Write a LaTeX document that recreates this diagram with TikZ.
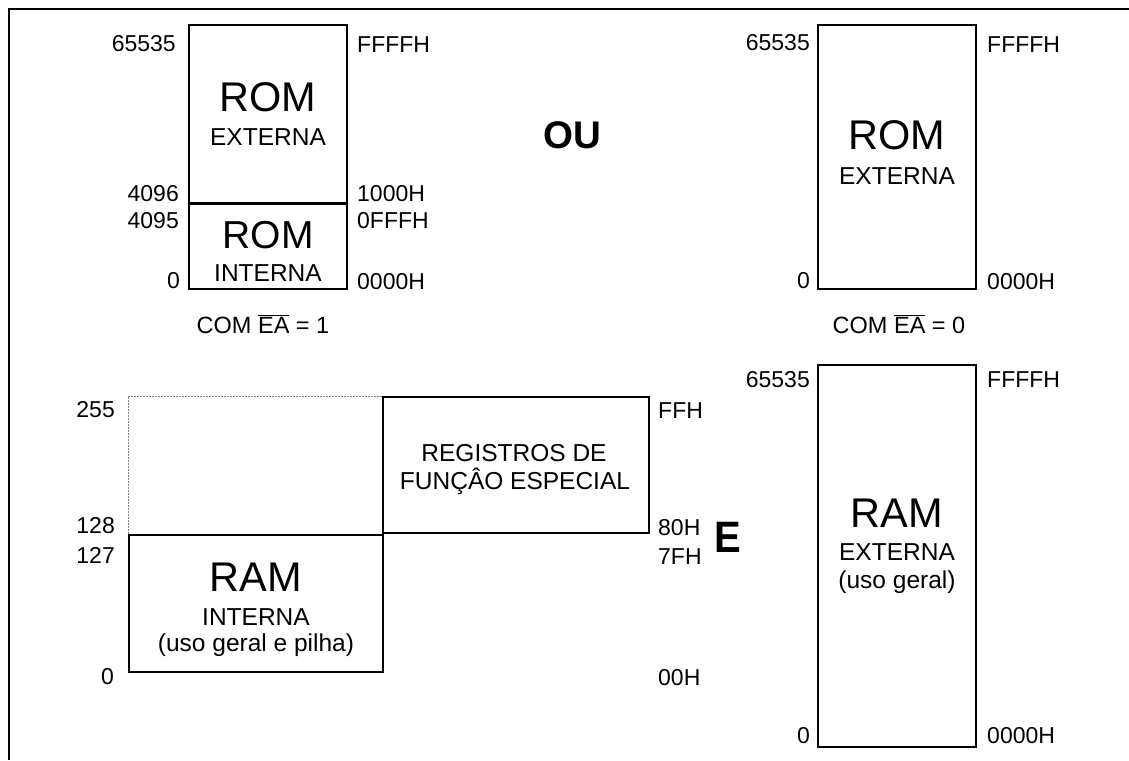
\documentclass[tikz,border=0pt]{standalone}
\usepackage{fontspec}
\setmainfont{Liberation Sans}
\newcommand{\myfs}[1]{\fontsize{#1}{#1}\selectfont}
\begin{document}
\begin{tikzpicture}[x=1pt,y=-1pt,
  membox/.style={draw, line width=2pt, rectangle, inner sep=0pt},
  lbl/.style={font=\myfs{23}, inner sep=0pt},
  bigt/.style={font=\myfs{41.5}, inner sep=0pt},
  midt/.style={font=\myfs{24.5}, inner sep=0pt},
  boldt/.style={font=\bfseries\myfs{38.5}, inner sep=0pt},
  frameline/.style={line width=2pt},
  dotline/.style={gray, line width=1pt, dash pattern=on 2pt off 1pt},
  divline/.style={line width=3pt}]
\useasboundingbox (0,0) rectangle (1129,760);
\fill[white] (0,0) rectangle (1129,760);

% frame
\coordinate (fright) at (1129,9);
\coordinate (fcorner) at (9,9);
\coordinate (fbottom) at (9,760);
\draw[frameline] (fright) -- (fcorner) -- (fbottom);

% ---- top-left: EA = 1
\node[membox, minimum width=158pt, minimum height=179pt] (romext) at (268,114.5) {};
\node[membox, minimum width=158pt, minimum height=85pt] (romint) at (268,246.5) {};
\draw[divline] (romint.north west) -- (romint.north east);
\node[bigt] (romextA) at (268,97) {ROM};
\node[midt] (romextB) at (268,137.5) {EXTERNA};
\node[font=\myfs{39}, inner sep=0pt] (romintA) at (268,235) {ROM};
\node[midt] (romintB) at (268,273) {INTERNA};
\node[lbl, anchor=east] (l65535a) at (176,44) {65535};
\node[lbl, anchor=east] (l4096) at (179,194) {4096};
\node[lbl, anchor=east] (l4095) at (179,221) {4095};
\node[lbl, anchor=east] (l0a) at (180,281) {0};
\node[lbl, anchor=west] (hFFFFa) at (357,45) {FFFFH};
\node[lbl, anchor=west] (h1000) at (357,194) {1000H};
\node[lbl, anchor=west] (h0FFF) at (357,221) {0FFFH};
\node[lbl, anchor=west] (h0000a) at (357,282) {0000H};
\node[midt, font=\myfs{23.5}, anchor=base] (ea1) at (263,333) {COM $\overline{\hbox{\myfs{23.5}EA}}$ = 1};

% OU
\node[boldt] (ou) at (572,135) {OU};

% ---- top-right: EA = 0
\node[membox, minimum width=158pt, minimum height=264pt] (romext2) at (897,157) {};
\node[bigt] (romext2A) at (897,135) {ROM};
\node[midt] (romext2B) at (897,176) {EXTERNA};
\node[lbl, anchor=east] (l65535b) at (810,43) {65535};
\node[lbl, anchor=east] (l0b) at (810,281) {0};
\node[lbl, anchor=west] (hFFFFb) at (987,45) {FFFFH};
\node[lbl, anchor=west] (h0000b) at (987,282) {0000H};
\node[midt, font=\myfs{23.5}, anchor=base] (ea0) at (899,333) {COM $\overline{\hbox{\myfs{23.5}EA}}$ = 0};

% ---- bottom-right: external RAM
\node[membox, minimum width=158pt, minimum height=382pt] (ramext) at (897,556) {};
\node[bigt] (ramextA) at (897,513) {RAM};
\node[midt] (ramextB) at (897,552) {EXTERNA};
\node[midt] (ramextC) at (897,582) {(uso geral)};
\node[lbl, anchor=east] (l65535c) at (810,380) {65535};
\node[lbl, anchor=east] (l0c) at (810,736) {0};
\node[lbl, anchor=west] (hFFFFc) at (987,380) {FFFFH};
\node[lbl, anchor=west] (h0000c) at (987,736) {0000H};

% ---- bottom-left: internal RAM and SFR
\node[membox, minimum width=266pt, minimum height=136pt] (sfr) at (516,465) {};
\node[membox, minimum width=254pt, minimum height=137pt] (ramint) at (256,603.5) {};
\draw[dotline] (ramint.north west) -- (ramint.north west |- sfr.north) -- (sfr.north west);
\node[bigt] (ramintA) at (256,577) {RAM};
\node[midt] (ramintB) at (256,617) {INTERNA};
\node[midt] (ramintC) at (256,645) {(uso geral e pilha)};
\node[midt] (sfrA) at (514,453) {REGISTROS DE};
\node[midt] (sfrB) at (515,481) {FUNÇÂO ESPECIAL};
\node[lbl, anchor=east] (l255) at (115,410) {255};
\node[lbl, anchor=east] (l128) at (115,526) {128};
\node[lbl, anchor=east] (l127) at (115,555) {127};
\node[lbl, anchor=east] (l0d) at (114,677) {0};
\node[lbl, anchor=west] (hFF) at (658,411) {FFH};
\node[lbl, anchor=west] (h80) at (658,528) {80H};
\node[lbl, anchor=west] (h7F) at (658,557) {7FH};
\node[lbl, anchor=west] (h00) at (658,678) {00H};

% E
\node[font=\bfseries\myfs{40}, inner sep=0pt, yscale=1.1] (andE) at (728,537) {E};
\end{tikzpicture}
\end{document}
